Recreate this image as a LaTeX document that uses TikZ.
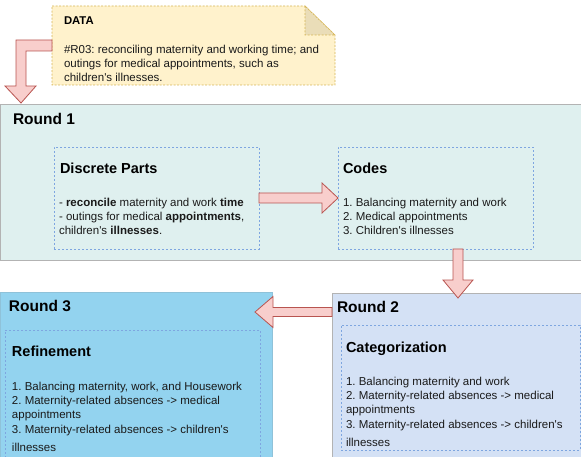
\documentclass[tikz,border=0pt]{standalone}
\usepackage{fontspec}
\newfontfamily\arialf{Liberation Sans}
\usetikzlibrary{calc}
\definecolor{notefill}{HTML}{FFF2CC}
\definecolor{notedraw}{HTML}{D6B656}
\definecolor{notefold}{HTML}{EADDB8}
\definecolor{arrfill}{HTML}{F8CECC}
\definecolor{arrdraw}{HTML}{B85450}
\definecolor{rAfill}{HTML}{DFF0EF}
\definecolor{rBfill}{HTML}{D4E1F5}
\definecolor{rCfill}{HTML}{93D3EF}
\definecolor{dashblue}{HTML}{7EA6E0}
\definecolor{roundline}{HTML}{B3B3B3}
\definecolor{txt}{HTML}{1A1A1A}
\frenchspacing
\begin{document}
\begin{tikzpicture}[x=1pt,y=-1pt,
  every node/.style={inner sep=0pt, outer sep=0pt},
  bodytext/.style={anchor=north west, align=left, text=txt, font=\arialf\frenchspacing\fontsize{11.5}{14}\selectfont},
  parttitle/.style={anchor=north west, text=black, font=\arialf\bfseries\fontsize{14.5}{17}\selectfont},
  roundtitle/.style={anchor=north west, text=black, font=\arialf\bfseries\fontsize{15.5}{18}\selectfont},
  roundbox/.style={anchor=north west, draw=roundline, line width=0.8pt},
  partbox/.style={anchor=north west, draw=dashblue, dash pattern=on 2pt off 2pt, line width=0.7pt},
  notestyle/.style={draw=notedraw, dash pattern=on 2pt off 1.5pt, line width=0.7pt},
  blockarrow/.style={fill=arrfill, draw=arrdraw, line width=0.8pt, line join=miter}]
\useasboundingbox (0,0) rectangle (581,457);

% ---- note
\node[anchor=north west, minimum width=283pt, minimum height=79pt] (note) at (52,6) {};
\draw[notestyle, fill=notefill] (note.north west) -- ($(note.north east)+(-30,0)$) -- ($(note.north east)+(0,29)$) -- (note.south east) -- (note.south west) -- cycle;
\draw[notestyle, fill=notefold] ($(note.north east)+(-30,0)$) -- ($(note.north east)+(-30,29)$) -- ($(note.north east)+(0,29)$) -- cycle;
\node[anchor=north west, text=black, font=\arialf\bfseries\fontsize{11.3}{14}\selectfont] (datat) at (64,17) {DATA};
\node[bodytext] (datab) at (64,45) {\#R03: reconciling maternity and working time; and\\outings for medical appointments, such as\\children's illnesses.};

% ---- round boxes
\node[roundbox, fill=rAfill, minimum width=581pt, minimum height=156pt] (r1) at (0,104) {};
\node[roundbox, fill=rBfill, minimum width=252pt, minimum height=170pt] (r2) at (332,293) {};
\node[roundbox, draw=rCfill!80!gray, fill=rCfill, minimum width=272pt, minimum height=170pt] (r3) at (0,292) {};

\node[roundtitle] (r1t) at (13,113) {Round 1};
\node[roundtitle] (r2t) at (337,301) {Round 2};
\node[roundtitle] (r3t) at (9,300) {Round 3};

% ---- part boxes
\node[partbox, minimum width=205pt, minimum height=102pt] (dp) at (54,147) {};
\node[partbox, minimum width=195pt, minimum height=102pt] (codes) at (338,147) {};
\node[partbox, minimum width=239pt, minimum height=125pt] (cat) at (341,325) {};
\node[partbox, minimum width=255pt, minimum height=140pt] (ref) at (5,330) {};

\node[parttitle] (dpt) at (60,163) {Discrete Parts};
\node[bodytext] (dpb) at (59,198) {- \textbf{reconcile} maternity and work \textbf{time}\\- outings for medical \textbf{appointments},\\children's \textbf{illnesses}.};

\node[parttitle] (codest) at (343,163) {Codes};
\node[bodytext] (codesb) at (343,198) {1. Balancing maternity and work\\2. Medical appointments\\3. Children's illnesses};

\node[parttitle] (catt) at (346,342) {Categorization};
\node[bodytext] (catb) at (346,377) {1. Balancing maternity and work\\2. Maternity-related absences -> medical\\appointments\\[1pt]3. Maternity-related absences -> children's\\[4pt]illnesses};

\node[parttitle] (reft) at (12,346) {Refinement};
\node[bodytext] (refb) at (12,382) {1. Balancing maternity, work, and Housework\\2. Maternity-related absences -> medical\\appointments\\[1pt]3. Maternity-related absences -> children's\\[4pt]illnesses};

% ---- block arrows
\coordinate (aS) at (note.west);
\coordinate (aE) at ($(r1.north west)+(21,-1)$);
\draw[blockarrow] ($(aS)+(0,-5.5)$) -- ($(aE |- aS)+(-5,-5.5)$) -- ($(aE)+(-5,-17)$) -- ($(aE)+(-16,-17)$) -- (aE) -- ($(aE)+(15,-17)$) -- ($(aE)+(5,-17)$) -- ($(aE |- aS)+(5,5.5)$) -- ($(aS)+(0,5.5)$) -- cycle;

\draw[blockarrow] ($(dp.east)+(0,-5)$) -- ($(codes.west)+(-16,-5)$) -- ($(codes.west)+(-16,-15)$) -- (codes.west) -- ($(codes.west)+(-16,15)$) -- ($(codes.west)+(-16,5)$) -- ($(dp.east)+(0,5)$) -- cycle;

\coordinate (cS) at ($(codes.south east)+(-75,0)$);
\coordinate (cE) at ($(r2.north west)+(126,5)$);
\draw[blockarrow] ($(cS)+(-5,0)$) -- ($(cE)+(-5,-18)$) -- ($(cE)+(-15,-18)$) -- (cE) -- ($(cE)+(15,-18)$) -- ($(cE)+(5,-18)$) -- ($(cS)+(5,0)$) -- cycle;

\coordinate (dS) at ($(r2.north west)+(0,19)$);
\coordinate (dE) at ($(r3.east |- dS)+(-17,0)$);
\draw[blockarrow] ($(dS)+(0,-4.5)$) -- ($(dE)+(18,-4.5)$) -- ($(dE)+(18,-15.5)$) -- (dE) -- ($(dE)+(18,15.5)$) -- ($(dE)+(18,4.5)$) -- ($(dS)+(0,4.5)$) -- cycle;
\end{tikzpicture}
\end{document}
